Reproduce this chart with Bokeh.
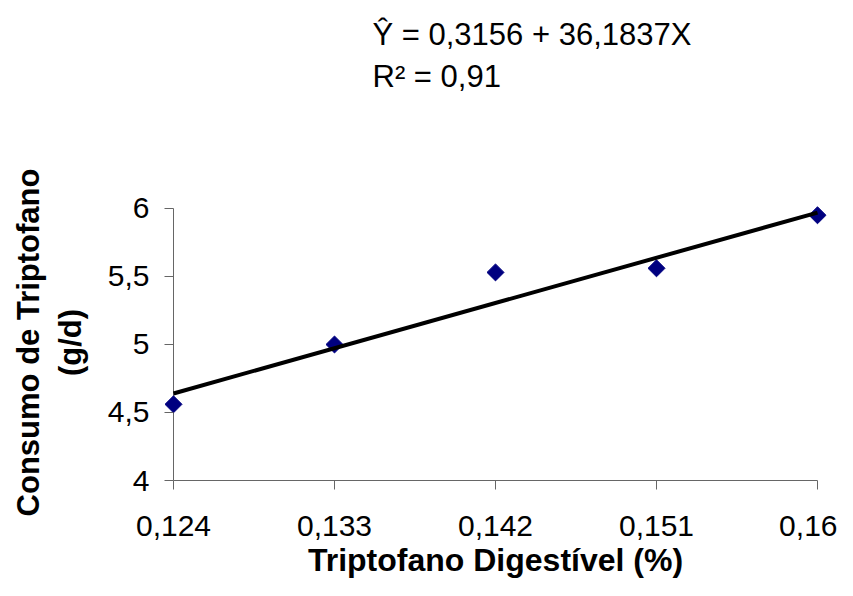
import numpy as np
from bokeh.plotting import figure
from bokeh.models import Range1d, FixedTicker, Title
from bokeh.embed import file_html
from bokeh.resources import INLINE

# ---- data ----
x_vals = [0.124, 0.133, 0.142, 0.151, 0.160]
y_vals = [4.56, 5.00, 5.53, 5.56, 5.95]
trend_x = [0.124, 0.160]
trend_y = [4.64, 5.97]
x_ticks = [0.124, 0.133, 0.142, 0.151, 0.160]
x_tick_labels = ["0,124", "0,133", "0,142", "0,151", "0,16"]
y_ticks = [4.0, 4.5, 5.0, 5.5, 6.0]
y_tick_labels = ["4", "4,5", "5", "5,5", "6"]
eq_line1 = "\u0176 = 0,3156 + 36,1837X"
eq_line2 = "R\u00b2 = 0,91"
x_title = "Triptofano Digest\u00edvel (%)"
y_title = "Consumo de Triptofano\n(g/d)"

FONT = "Liberation Sans"

# pixel geometry of the plotting frame
px_per_x = 644 / (x_ticks[-1] - x_ticks[0])
px_per_y = 274 / (y_ticks[-1] - y_ticks[0])
pad_x = 9 / px_per_x
pad_top = 4 / px_per_y

p = figure(width=837, height=580, output_backend="svg", toolbar_location=None,
           x_range=Range1d(x_ticks[0] - pad_x, x_ticks[-1] + pad_x),
           y_range=Range1d(y_ticks[0], y_ticks[-1] + pad_top),
           min_border_left=164, min_border_right=11, min_border_top=204, min_border_bottom=98)
p.outline_line_color = None
p.grid.visible = False
p.background_fill_color = "white"
p.border_fill_color = "white"

AX_COL = "#666666"

# x axis
xa = p.xaxis[0]
xa.ticker = FixedTicker(ticks=x_ticks)
xa.major_label_overrides = {t: l for t, l in zip(x_ticks, x_tick_labels)}
xa.bounds = (x_ticks[0], x_ticks[-1])
xa.axis_line_color = AX_COL
xa.major_tick_line_color = AX_COL
xa.major_tick_out = 9
xa.major_tick_in = 0
xa.minor_tick_line_color = None
xa.major_label_text_font = FONT
xa.major_label_text_font_size = "30px"
xa.major_label_text_color = "black"
xa.major_label_standoff = 26
xa.axis_label = x_title
xa.axis_label_text_font = FONT
xa.axis_label_text_font_size = "32px"
xa.axis_label_text_font_style = "bold"
xa.axis_label_text_color = "black"
xa.axis_label_standoff = 3

# y axis
ya = p.yaxis[0]
ya.ticker = FixedTicker(ticks=y_ticks)
ya.major_label_overrides = {t: l for t, l in zip(y_ticks, y_tick_labels)}
ya.bounds = (y_ticks[0], y_ticks[-1])
ya.axis_line_color = None
ya.major_tick_line_color = AX_COL
ya.major_tick_out = 0
ya.major_tick_in = 9
ya.minor_tick_line_color = None
ya.major_label_text_font = FONT
ya.major_label_text_font_size = "30px"
ya.major_label_text_color = "black"
ya.major_label_standoff = 15
ya.axis_label = y_title
ya.axis_label_text_font = FONT
ya.axis_label_text_font_size = "31px"
ya.axis_label_text_font_style = "bold"
ya.axis_label_text_color = "black"
ya.axis_label_standoff = 17

# y axis line at the first x tick
p.segment(x0=[x_ticks[0]], y0=[y_ticks[0]], x1=[x_ticks[0]], y1=[y_ticks[-1]],
          line_color=AX_COL, line_width=1)

# data points (diamonds) and trendline on top
p.scatter(x_vals, y_vals, marker="square", angle=np.pi / 4, size=12,
          fill_color="#000080", line_color="#000080")
p.line(trend_x, trend_y, line_color="black", line_width=4)

# equation lines as titles above the frame (spacer first, nearest the frame)
title_style = dict(text_font=FONT, text_font_size="31px", text_font_style="normal",
                   text_color="black")
p.add_layout(Title(text=" ", align="left", offset=208, standoff=70, **title_style), "above")
p.add_layout(Title(text=eq_line2, align="left", offset=208, standoff=8, **title_style), "above")
p.add_layout(Title(text=eq_line1, align="left", offset=208, standoff=2, **title_style), "above")

open("out.html", "w").write(file_html(p, INLINE))
